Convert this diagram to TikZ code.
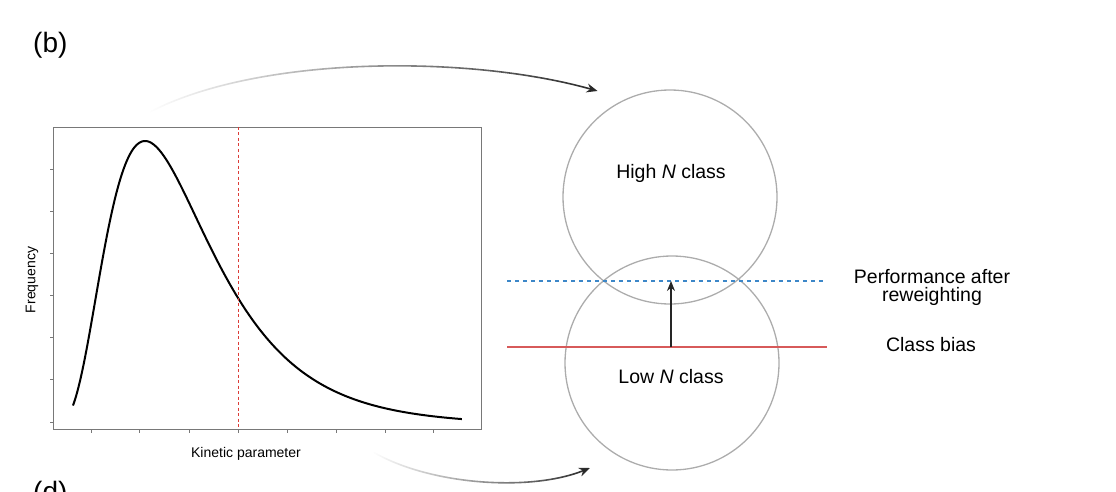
\documentclass[tikz,border=0pt]{standalone}
\usepackage{fontspec}
\setmainfont{Liberation Sans}
\usetikzlibrary{arrows.meta,fadings}
\definecolor{circgray}{RGB}{172,172,172}
\definecolor{framegray}{RGB}{120,120,120}
\definecolor{redd}{RGB}{220,60,55}
\definecolor{redline}{RGB}{215,90,90}
\definecolor{bluedot}{RGB}{60,135,200}
\definecolor{arcgray}{RGB}{40,40,40}
\tikzset{
  classcirc/.style={circle, draw=circgray, line width=1.3pt, minimum size=214pt, inner sep=0pt},
  lbl/.style={inner sep=0pt, font=\fontsize{19.5}{18}\selectfont},
  small/.style={inner sep=0pt, font=\fontsize{14}{16}\selectfont},
  panel/.style={inner sep=0pt, font=\fontsize{28}{30}\selectfont},
  frame/.style={draw=framegray, line width=0.8pt},
  tick/.style={draw=framegray, line width=0.6pt},
  curve/.style={line width=2pt, black},
  arcarrow/.style={line width=1.6pt, arcgray, -{Stealth[length=11pt,width=9pt]}},
}
\begin{document}
\begin{tikzpicture}[x=1pt,y=-1pt]
\useasboundingbox (0,0) rectangle (1116,492);
% panel labels
\node[panel, anchor=base west] (pb) at (33,53) {(b)};
\node[panel, anchor=base west] (pd) at (33,501) {(d)};
% plot frame
\node[frame, minimum width=428pt, minimum height=302pt, inner sep=0pt, anchor=north west] (plot) at (53,127) {};
\foreach \yy in {169,211,253,295,337,379,422} \draw[tick] (53,\yy) -- (50,\yy);
\foreach \xx in {91,139,189,238,287,336,385,433} \draw[tick] (\xx,429) -- (\xx,433);
\draw[curve] plot[domain=0.33:4.22, samples=160, smooth] ({40+100*\x},{425-337.9*exp(-2*(ln(\x)-0.2988)^2)/\x});
\draw[redd, line width=1pt, dash pattern=on 3pt off 2.5pt] (238,127) -- (238,429);
\node[small, anchor=base] (xl) at (246,457) {Kinetic parameter};
\node[small, rotate=90] (yl) at (32,280) {Frequency};
% circles
\node[classcirc] (hi) at (670,197) {};
\node[classcirc] (lo) at (672,363) {};
\node[lbl, anchor=base] (hit) at (671,178) {High \textit{N} class};
\node[lbl, anchor=base] (lot) at (671,383) {Low \textit{N} class};
% lines
\coordinate (bl) at (507,281); \coordinate (br) at (823,281);
\coordinate (rl) at (507,347); \coordinate (rr) at (827,347);
\draw[bluedot, line width=1.5pt, dash pattern=on 4pt off 4pt] (bl) -- (br);
\draw[redline, line width=1.6pt] (rl) -- (rr);
\coordinate (ab) at (671,347); \coordinate (at) at (671,281);
\draw[line width=1.4pt, black!85, -{Stealth[length=10pt,width=8pt]}] (ab) -- (at);
\node[lbl, align=center] (perf) at (932,287) {Performance after\\reweighting};
\node[lbl, anchor=base] (cb) at (931,351) {Class bias};
% arcs
\coordinate (a1s) at (150,112); \coordinate (a1e) at (598,91);
\coordinate (a2s) at (373,452); \coordinate (a2e) at (590,468);
\draw[arcarrow, path fading=west] (a1s) .. controls (260,55) and (470,55) .. (a1e);
\draw[arcarrow, path fading=west] (a2s) .. controls (430,485) and (530,492) .. (a2e);
\end{tikzpicture}
\end{document}
